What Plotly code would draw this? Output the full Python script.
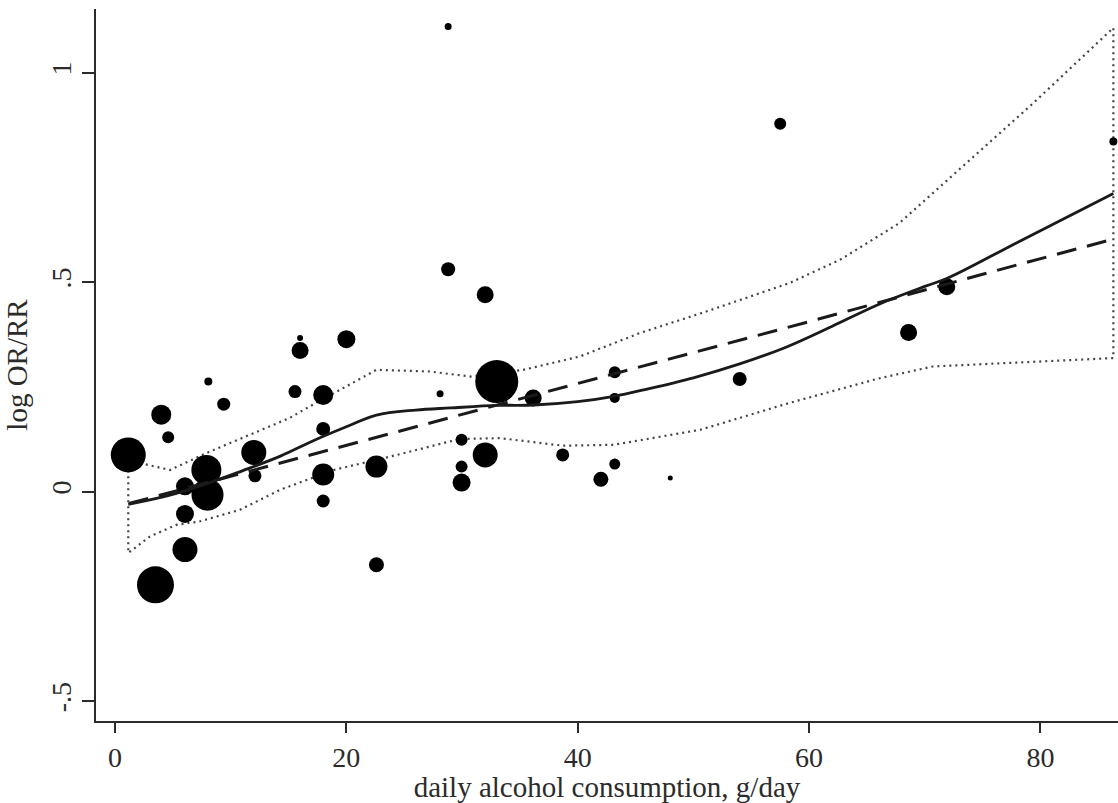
import plotly.graph_objects as go

# ---- data ----
pt_x = [1.15, 3.5, 4.0, 4.6, 6.05, 6.05, 6.05, 7.9, 8.0, 8.07, 9.4, 12.0, 12.1,
        15.56, 16.0, 16.0, 18.0, 18.0, 18.0, 18.0, 20.0, 22.6, 22.6, 28.1, 28.8,
        28.8, 29.96, 29.96, 29.96, 32.0, 32.0, 33.0, 36.15, 38.7, 42.0, 43.2,
        43.2, 43.2, 48.0, 54.0, 57.5, 68.6, 71.9, 86.3]
pt_y = [0.088, -0.222, 0.184, 0.13, 0.013, -0.053, -0.138, 0.052, -0.007, 0.263,
        0.209, 0.094, 0.038, 0.239, 0.337, 0.367, 0.231, 0.15, 0.041, -0.022,
        0.364, 0.06, -0.174, 0.234, 0.531, 1.11, 0.124, 0.06, 0.022, 0.47,
        0.088, 0.263, 0.224, 0.088, 0.030, 0.285, 0.224, 0.066, 0.033, 0.269,
        0.878, 0.380, 0.489, 0.836]
pt_w = [35, 37, 20, 12, 18, 18, 25, 30, 32, 8, 13, 25, 13, 13, 17, 6, 20, 14,
        22, 13, 18, 22, 15, 7, 14, 7, 12, 12, 18, 17, 25, 43, 17, 13, 15, 12,
        10, 11, 5, 14, 12, 17, 17, 8]

spline_x = [1.15, 4.5, 8, 11, 14.3, 17, 20, 22.6, 26, 29, 33, 36.2, 40, 43, 46,
            50, 54, 58, 62, 66, 70, 72, 78, 86.3]
spline_y = [-0.03, -0.01, 0.02, 0.05, 0.085, 0.12, 0.155, 0.183, 0.195, 0.2,
            0.206, 0.207, 0.215, 0.227, 0.245, 0.272, 0.305, 0.345, 0.395,
            0.447, 0.49, 0.51, 0.595, 0.712]

linear_x = [1.2, 15, 30, 45, 60, 75, 86.3]
linear_y = [-0.028, 0.074, 0.185, 0.296, 0.406, 0.519, 0.603]

ci_up_x = [1.15, 3.0, 4.75, 8.2, 11.7, 15.1, 16.6, 19.4, 22.6, 27.2, 30.7, 35.3,
           40.2, 45.4, 51.1, 58.3, 62.7, 67.8, 73.6, 79.4, 86.3]
ci_up_y = [0.075, 0.064, 0.052, 0.096, 0.136, 0.176, 0.2, 0.243, 0.291, 0.287,
           0.275, 0.291, 0.323, 0.379, 0.43, 0.498, 0.554, 0.641, 0.784, 0.928,
           1.107]
ci_lo_x = [1.15, 3.0, 5.3, 7.3, 10.8, 14.3, 18.9, 23.8, 29.8, 33.3, 38.7, 43.1,
           50.6, 52.6, 58.3, 66.1, 70.7, 86.3]
ci_lo_y = [-0.146, -0.107, -0.079, -0.071, -0.043, 0.005, 0.052, 0.084, 0.126,
           0.128, 0.11, 0.112, 0.148, 0.164, 0.212, 0.271, 0.299, 0.319]

x_ticks = [0, 20, 40, 60, 80]
y_ticks = [-0.5, 0, 0.5, 1]
y_tick_text = ["-.5", "0", ".5", "1"]

FONT = "Liberation Serif"
FS_TICK = 28
FS_TITLE = 29
INK = "#2b2b2b"

fig = go.Figure()

# confidence band outline (closed path)
band_x = ci_up_x + ci_lo_x[::-1] + [ci_up_x[0]]
band_y = ci_up_y + ci_lo_y[::-1] + [ci_up_y[0]]
fig.add_trace(go.Scatter(x=band_x, y=band_y, mode="lines",
                         line=dict(color="#444444", width=2.2, dash="2px,4px"),
                         hoverinfo="skip"))

fig.add_trace(go.Scatter(x=pt_x, y=pt_y, mode="markers",
                         marker=dict(size=pt_w, color="black", opacity=1,
                                     line=dict(width=0))))

fig.add_trace(go.Scatter(x=linear_x, y=linear_y, mode="lines",
                         line=dict(color="#1a1a1a", width=3, dash="20px,11px")))
fig.add_trace(go.Scatter(x=spline_x, y=spline_y, mode="lines",
                         line=dict(color="#1a1a1a", width=2.8, shape="spline")))

fig.update_layout(
    width=1118, height=803,
    margin=dict(l=96, r=0, t=9, b=82),
    paper_bgcolor="white", plot_bgcolor="white",
    showlegend=False,
    font=dict(family=FONT, color=INK, size=FS_TICK),
    xaxis=dict(range=[-1.64, 86.7], tickvals=x_ticks, ticks="outside",
               ticklen=10, tickwidth=2, tickcolor=INK,
               showline=True, linecolor=INK, linewidth=2,
               showgrid=False, zeroline=False,
               tickfont=dict(family=FONT, size=FS_TICK, color=INK),
               title=dict(text="daily alcohol consumption, g/day",
                          font=dict(family=FONT, size=FS_TITLE, color=INK),
                          standoff=3)),
    yaxis=dict(range=[-0.547, 1.152], tickvals=y_ticks, ticktext=y_tick_text,
               tickangle=-90, ticks="outside",
               ticklen=12, tickwidth=2, tickcolor=INK,
               showline=True, linecolor=INK, linewidth=2,
               showgrid=False, zeroline=False,
               tickfont=dict(family=FONT, size=FS_TICK, color=INK),
               title=dict(text="log OR/RR",
                          font=dict(family=FONT, size=FS_TITLE, color=INK),
                          standoff=10)),
)

fig.write_html("out.html")
